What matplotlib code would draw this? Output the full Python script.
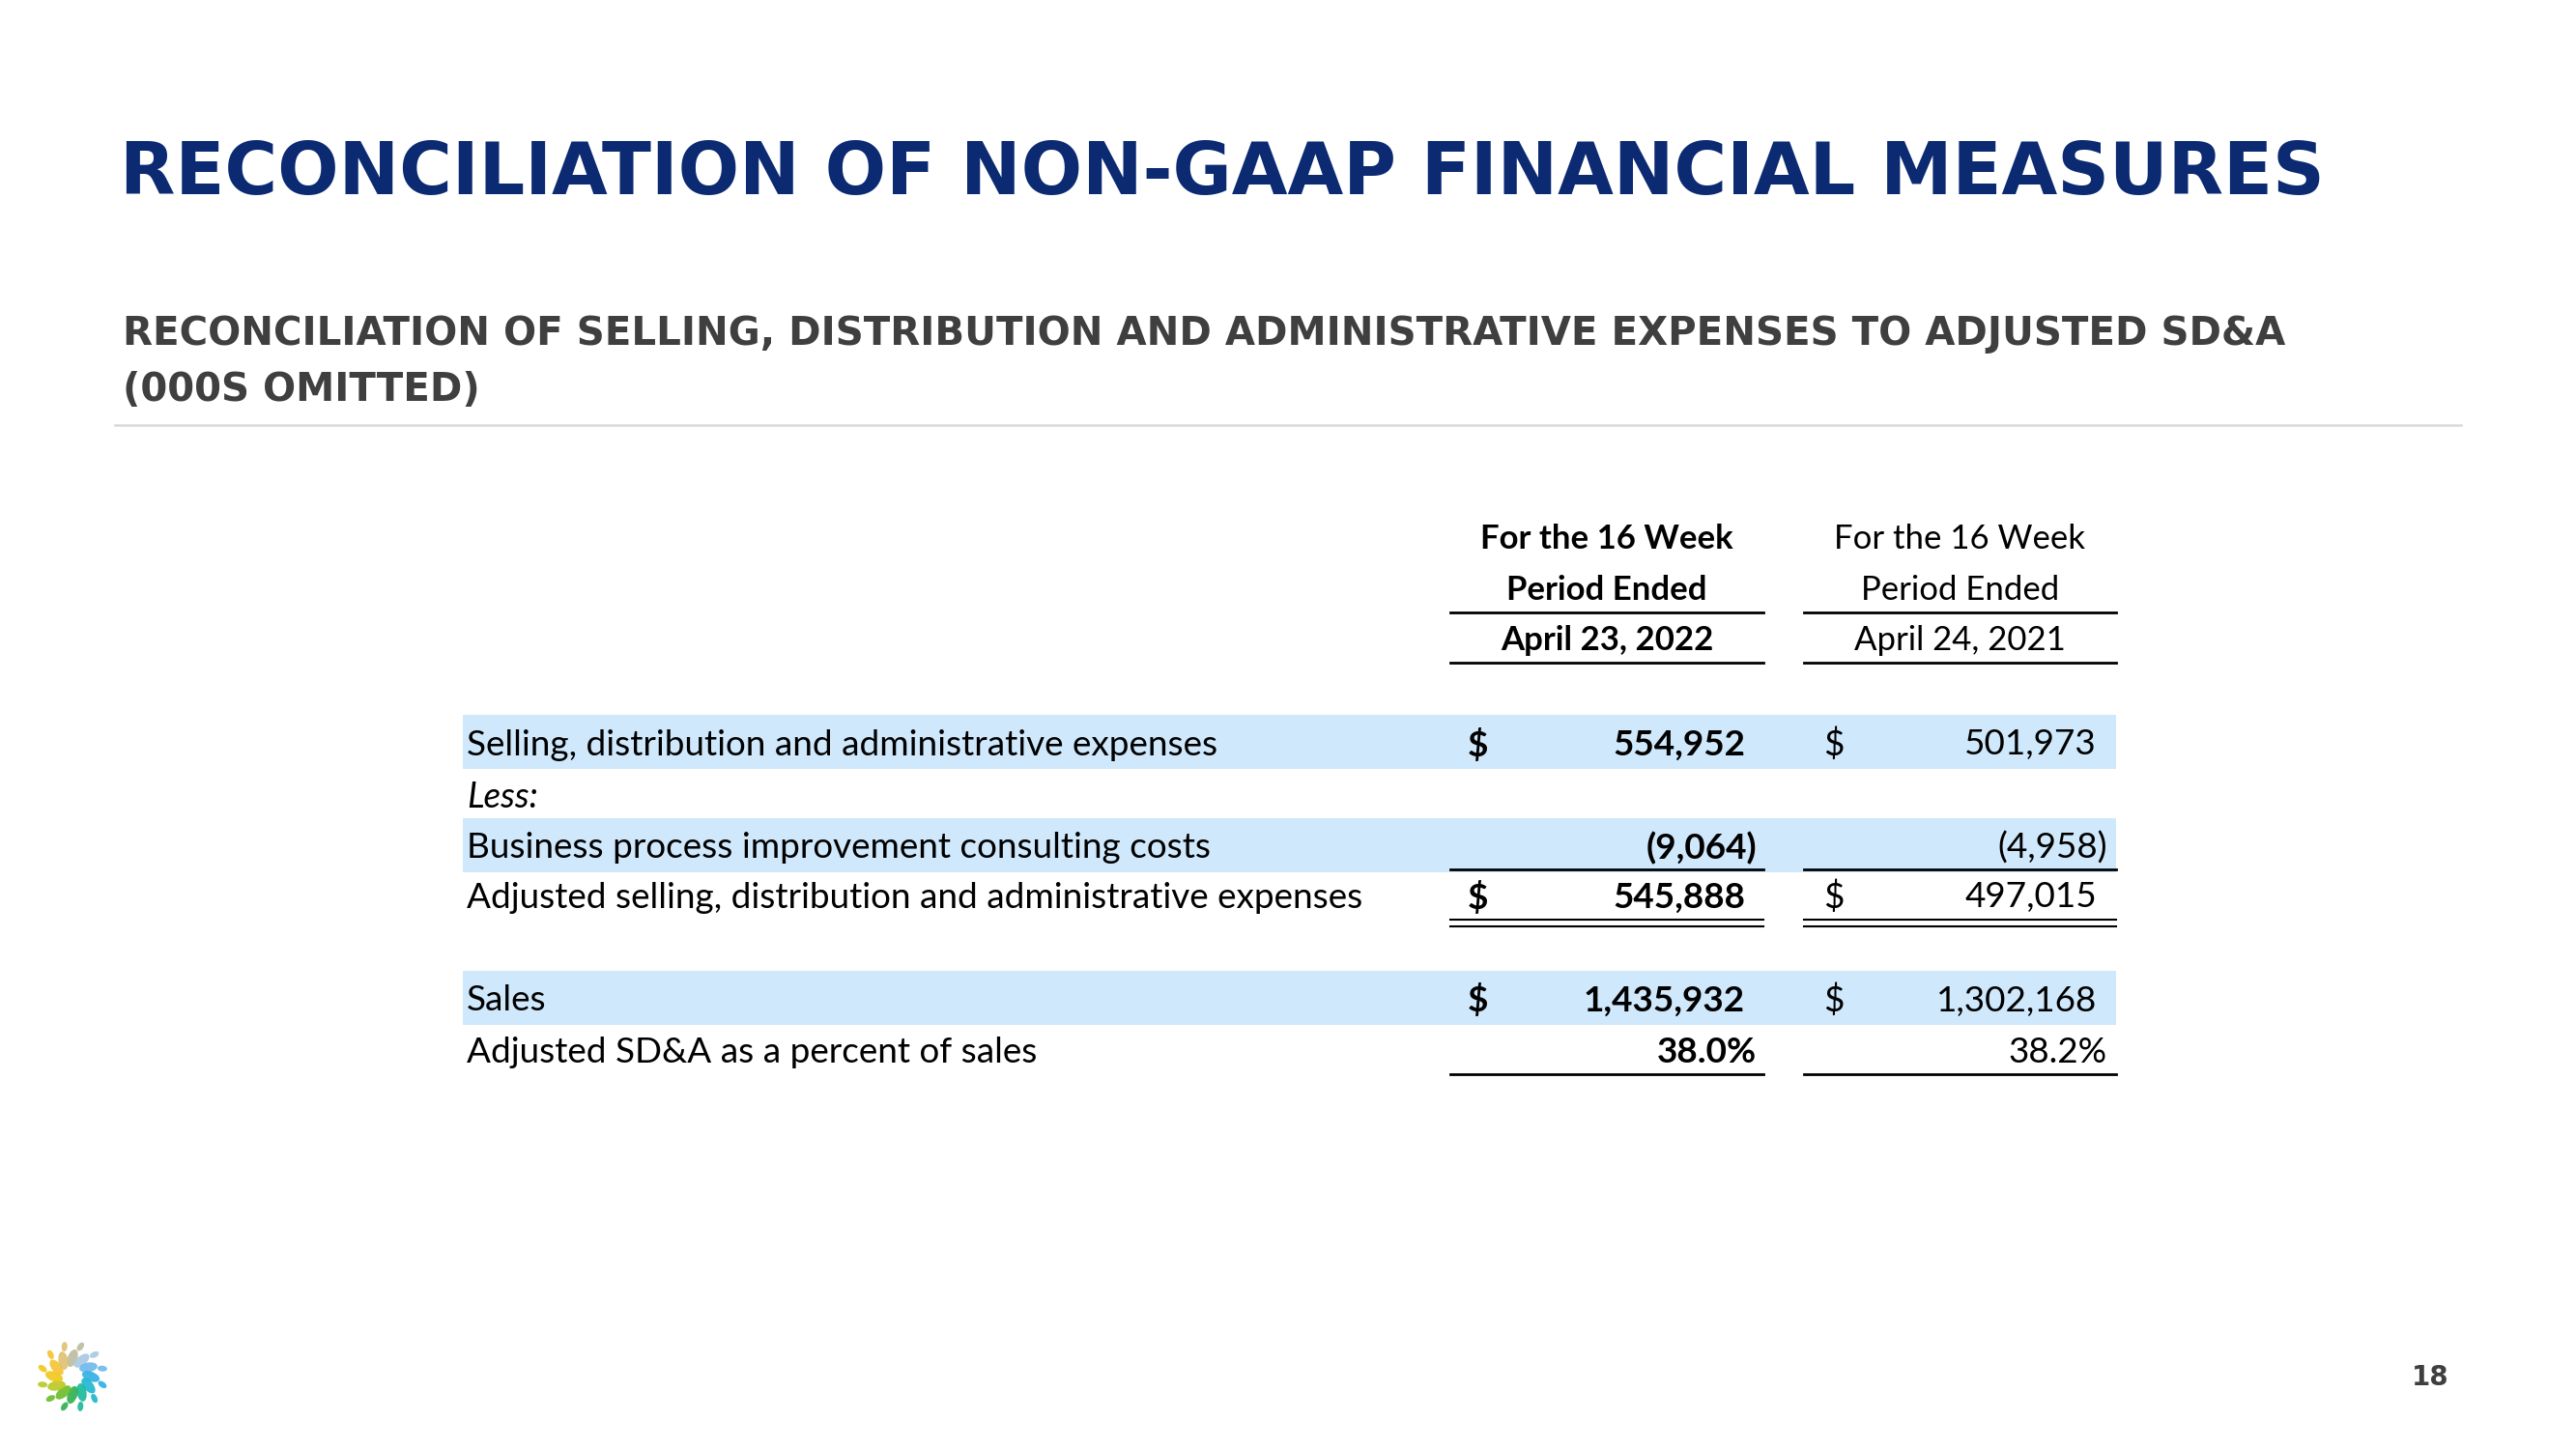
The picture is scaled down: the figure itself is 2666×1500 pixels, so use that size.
import numpy as np
import matplotlib.pyplot as plt
from matplotlib.patches import Rectangle, Ellipse

# --- data ---
title = "RECONCILIATION OF NON-GAAP FINANCIAL MEASURES"
subtitle = ["RECONCILIATION OF SELLING, DISTRIBUTION AND ADMINISTRATIVE EXPENSES TO ADJUSTED SD&A",
            "(000S OMITTED)"]
header_2022 = ["For the 16 Week", "Period Ended", "April 23, 2022"]
header_2021 = ["For the 16 Week", "Period Ended", "April 24, 2021"]

row_labels = ["Selling, distribution and administrative expenses",
              "Less:",
              "Business process improvement consulting costs",
              "Adjusted selling, distribution and administrative expenses",
              "Sales",
              "Adjusted SD&A as a percent of sales"]
values_2022 = ["554,952", "", "(9,064)", "545,888", "1,435,932", "38.0%"]
values_2021 = ["501,973", "", "(4,958)", "497,015", "1,302,168", "38.2%"]
dollar_sign = [True, False, False, True, True, False]
shaded = [True, False, True, False, True, False]
page_number = "18"

# --- layout (pixel coords) ---
W, H = 2666, 1500
fig = plt.figure(figsize=(W / 100, H / 100), dpi=100)
ax = fig.add_axes([0, 0, 1, 1])
ax.set_xlim(0, W)
ax.set_ylim(H, 0)
ax.axis('off')

navy = '#0b2a72'
gray = '#3f3f3f'
band = '#cfe8fb'
tfont = 'Lato'
fs = 26.6

ax.text(124, 180, title, fontsize=53.7, fontweight='heavy', color=navy,
        family='DejaVu Sans', va='center', ha='left')
ax.text(127, 346, subtitle[0], fontsize=29, fontweight='bold', color=gray,
        family='DejaVu Sans', va='center', ha='left')
ax.text(127, 404, subtitle[1], fontsize=29, fontweight='bold', color=gray,
        family='DejaVu Sans', va='center', ha='left')
ax.plot([119, 2547], [440, 440], color='#d9d9d9', lw=1.8)

# column geometry
c1 = (1501, 1825)
c2 = (1867, 2190)
label_x = 483
row_y = [771, 825, 878, 929, 1036, 1090]
row_h = 56

# header
hdr_y = [558, 611, 663]
for i in range(3):
    ax.text(sum(c1) / 2, hdr_y[i], header_2022[i], fontsize=25, fontweight='bold',
            family=tfont, ha='center', va='center', color='black')
    ax.text(sum(c2) / 2, hdr_y[i], header_2021[i], fontsize=25,
            family=tfont, ha='center', va='center', color='black')
for yy in (634, 686):
    ax.plot(c1, [yy, yy], color='black', lw=2)
    ax.plot(c2, [yy, yy], color='black', lw=2)

# rows
for i, lab in enumerate(row_labels):
    y = row_y[i]
    if shaded[i]:
        ax.add_patch(Rectangle((479, y - row_h / 2 - 3), 2190 - 479, row_h,
                               color=band, lw=0, zorder=0))
    ax.text(label_x, y, lab, fontsize=fs, family=tfont,
            style='italic' if lab == "Less:" else 'normal',
            ha='left', va='center', color='black')
    if dollar_sign[i]:
        ax.text(1519, y, "$", fontsize=fs, fontweight='bold', family=tfont,
                ha='left', va='center')
        ax.text(1887, y, "$", fontsize=fs, family=tfont, ha='left', va='center')
    v1, v2 = values_2022[i], values_2021[i]
    if v1:
        x1 = 1818 if v1.endswith(')') or v1.endswith('%') else 1806
        ax.text(x1, y, v1, fontsize=fs, fontweight='bold', family=tfont,
                ha='right', va='center')
    if v2:
        x2 = 2181 if v2.endswith(')') or v2.endswith('%') else 2170
        ax.text(x2, y, v2, fontsize=fs, family=tfont, ha='right', va='center')

# rules
for c in (c1, c2):
    ax.plot(c, [900, 900], color='black', lw=2)
    ax.plot(c, [952, 952], color='black', lw=1.5)
    ax.plot(c, [959, 959], color='black', lw=1.5)
    ax.plot(c, [1112, 1112], color='black', lw=2)

# logo: ring of leaves
cx, cy = 75, 1425
leaf_cols = ['#bcbca0', '#a8c8e0', '#6cb8ec', '#2eaee6', '#1cb6d0', '#18b89a',
             '#2eb04e', '#6cbc28', '#b8c820', '#f0c818', '#f4c430', '#e0c070']
n = len(leaf_cols)
for k in range(n):
    ang = np.pi / 2 - 2 * np.pi * k / n
    for r, w, h, off in ((19, 10, 19, 0.0), (32, 6, 10, 0.5)):
        a = ang - off * 2 * np.pi / n
        ax.add_patch(Ellipse((cx + r * np.cos(a), cy - r * np.sin(a)), w, h,
                             angle=-np.degrees(a) + 90 + 20,
                             color=leaf_cols[k], lw=0, alpha=0.9))

ax.text(2515, 1426, page_number, fontsize=20, fontweight='bold', color=gray,
        family='DejaVu Sans', ha='center', va='center')

fig.savefig('out.png', dpi=100)
